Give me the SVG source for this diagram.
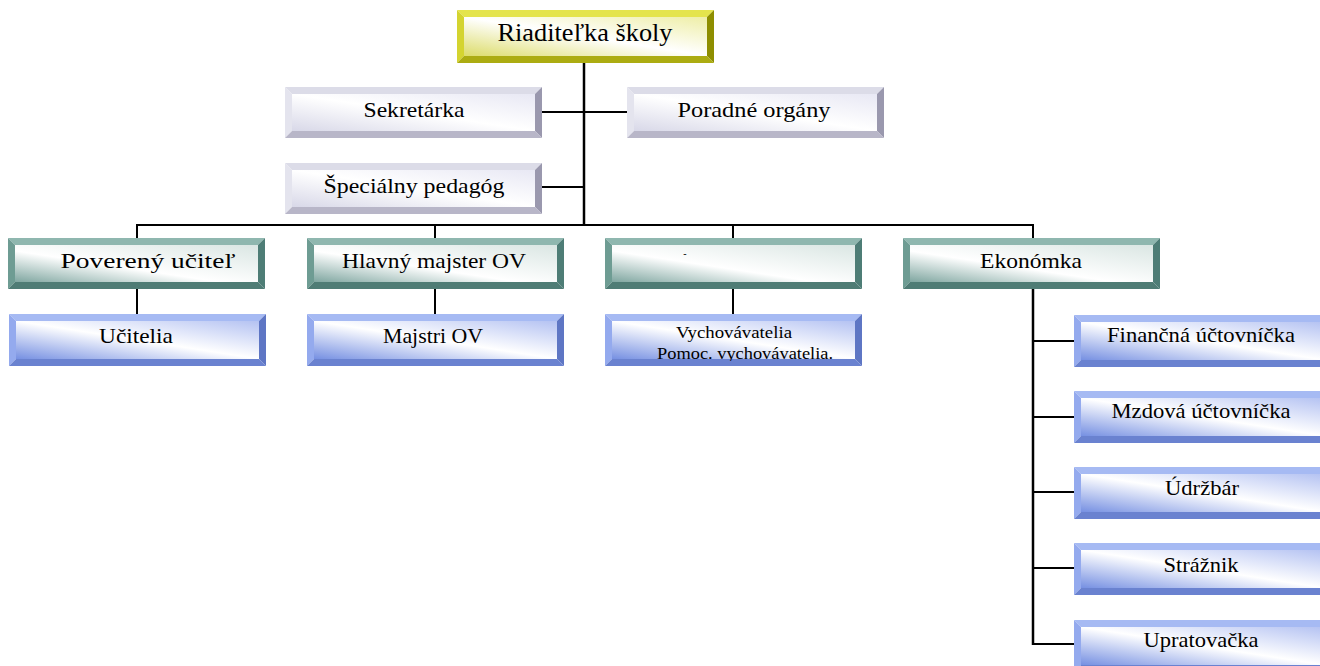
<svg xmlns="http://www.w3.org/2000/svg" width="1320" height="666" viewBox="0 0 1320 666">
<style>
.t{font-family:'Liberation Serif','DejaVu Serif',serif;font-size:22px;fill:#000;text-anchor:middle}
.big{font-size:26px}
.sm{font-size:17px}
.ln{stroke:#000;stroke-width:2;fill:none}
.tr{stroke-width:2.5}
</style>
<defs>
<linearGradient id="gY" x1="0" y1="1" x2="1" y2="0"><stop offset="0" stop-color="#dcdc6a"/><stop offset="0.5" stop-color="#ffffff"/><stop offset="1" stop-color="#eeeea6"/></linearGradient>
<linearGradient id="gG" x1="0" y1="1" x2="1" y2="0"><stop offset="0" stop-color="#d8d8e8"/><stop offset="0.5" stop-color="#ffffff"/><stop offset="1" stop-color="#e8e8f4"/></linearGradient>
<linearGradient id="gT" x1="0" y1="1" x2="1" y2="0"><stop offset="0" stop-color="#7fa6a0"/><stop offset="0.42" stop-color="#ffffff"/><stop offset="1" stop-color="#dae6e3"/></linearGradient>
<linearGradient id="gB" x1="0" y1="1" x2="1" y2="0"><stop offset="0" stop-color="#7690e2"/><stop offset="0.5" stop-color="#ffffff"/><stop offset="1" stop-color="#b4c2f2"/></linearGradient>
<g id="boxY">
<rect x="7" y="7" width="243" height="39" fill="url(#gY)"/>
<polygon points="0,0 257,0 250,7 7,7" fill="#e4e44c"/>
<polygon points="0,0 7,7 7,46 0,53" fill="#d4d430"/>
<polygon points="257,0 257,53 250,46 250,7" fill="#8e8e00"/>
<polygon points="0,53 7,46 250,46 257,53" fill="#acac12"/>
</g>
<g id="boxG">
<rect x="7" y="7" width="243" height="37" fill="url(#gG)"/>
<polygon points="0,0 257,0 250,7 7,7" fill="#dcdce8"/>
<polygon points="0,0 7,7 7,44 0,51" fill="#e4e4ee"/>
<polygon points="257,0 257,51 250,44 250,7" fill="#9a98ae"/>
<polygon points="0,51 7,44 250,44 257,51" fill="#b8b6c8"/>
</g>
<g id="boxT">
<rect x="7" y="7" width="243" height="37" fill="url(#gT)"/>
<polygon points="0,0 257,0 250,7 7,7" fill="#8fb7af"/>
<polygon points="0,0 7,7 7,44 0,51" fill="#6e9c93"/>
<polygon points="257,0 257,51 250,44 250,7" fill="#4e7d76"/>
<polygon points="0,51 7,44 250,44 257,51" fill="#4f7c75"/>
</g>
<g id="boxB">
<rect x="7" y="7" width="243" height="38" fill="url(#gB)"/>
<polygon points="0,0 257,0 250,7 7,7" fill="#a6baf3"/>
<polygon points="0,0 7,7 7,45 0,52" fill="#94aaee"/>
<polygon points="257,0 257,52 250,45 250,7" fill="#5e76c4"/>
<polygon points="0,52 7,45 250,45 257,52" fill="#6a82d0"/>
</g>
<clipPath id="cV"><rect x="605" y="314" width="257" height="47"/></clipPath>
</defs>
<rect width="1320" height="666" fill="#fff"/>
<g id="connectors">
<line class="ln tr" x1="584" y1="63" x2="584" y2="226"/>
<line class="ln" x1="542" y1="112" x2="627" y2="112"/>
<line class="ln" x1="542" y1="187" x2="584" y2="187"/>
<line class="ln" x1="136" y1="225" x2="1034" y2="225"/>
<line class="ln" x1="137" y1="225" x2="137" y2="238"/>
<line class="ln" x1="435" y1="225" x2="435" y2="238"/>
<line class="ln" x1="733" y1="225" x2="733" y2="238"/>
<line class="ln" x1="1033" y1="225" x2="1033" y2="238"/>
<line class="ln" x1="137" y1="289" x2="137" y2="314"/>
<line class="ln" x1="435" y1="289" x2="435" y2="314"/>
<line class="ln" x1="733" y1="289" x2="733" y2="314"/>
<line class="ln tr" x1="1033" y1="289" x2="1033" y2="645"/>
<line class="ln" x1="1033" y1="341" x2="1074" y2="341"/>
<line class="ln" x1="1033" y1="417" x2="1074" y2="417"/>
<line class="ln" x1="1033" y1="492" x2="1074" y2="492"/>
<line class="ln" x1="1033" y1="568" x2="1074" y2="568"/>
<line class="ln" x1="1032" y1="644" x2="1074" y2="644"/>
</g>
<g id="riaditelka"><use href="#boxY" x="457" y="10"/><text class="t big" x="585" y="41" textLength="175" lengthAdjust="spacingAndGlyphs">Riaditeľka školy</text></g>
<g id="sekretarka"><use href="#boxG" x="285" y="87"/><text class="t" x="414" y="117" textLength="101" lengthAdjust="spacingAndGlyphs">Sekretárka</text></g>
<g id="poradne"><use href="#boxG" x="627" y="87"/><text class="t" x="754" y="117" textLength="153" lengthAdjust="spacingAndGlyphs">Poradné orgány</text></g>
<g id="specialny"><use href="#boxG" x="285" y="163"/><text class="t" x="414" y="193" textLength="181" lengthAdjust="spacingAndGlyphs">Špeciálny pedagóg</text></g>
<g id="povereny"><use href="#boxT" x="8" y="238"/><text class="t" x="148" y="268" textLength="175" lengthAdjust="spacingAndGlyphs">Poverený učiteľ</text></g>
<g id="hlavny"><use href="#boxT" x="307" y="238"/><text class="t" x="434" y="268" textLength="184" lengthAdjust="spacingAndGlyphs">Hlavný majster OV</text></g>
<g id="pomlcka"><use href="#boxT" x="605" y="238"/><text class="t" x="685" y="257" style="font-size:10px">-</text></g>
<g id="ekonomka"><use href="#boxT" x="903" y="238"/><text class="t" x="1031" y="268" textLength="102" lengthAdjust="spacingAndGlyphs">Ekonómka</text></g>
<g id="ucitelia"><use href="#boxB" x="9" y="314"/><text class="t" x="136" y="343" textLength="74" lengthAdjust="spacingAndGlyphs">Učitelia</text></g>
<g id="majstri"><use href="#boxB" x="307" y="314"/><text class="t" x="433" y="343" textLength="100" lengthAdjust="spacingAndGlyphs">Majstri OV</text></g>
<g id="vychovavatelia"><use href="#boxB" x="605" y="314"/><g clip-path="url(#cV)"><text class="t sm" x="734" y="338" textLength="116" lengthAdjust="spacingAndGlyphs">Vychovávatelia</text><text class="t sm" x="745" y="359" textLength="176" lengthAdjust="spacingAndGlyphs">Pomoc. vychovávatelia.</text></g></g>
<g id="financna"><use href="#boxB" x="1074" y="315"/><text class="t" x="1201" y="342" textLength="188" lengthAdjust="spacingAndGlyphs">Finančná účtovníčka</text></g>
<g id="mzdova"><use href="#boxB" x="1074" y="391"/><text class="t" x="1201" y="418" textLength="179" lengthAdjust="spacingAndGlyphs">Mzdová účtovníčka</text></g>
<g id="udrzbar"><use href="#boxB" x="1074" y="467"/><text class="t" x="1202" y="495" textLength="74" lengthAdjust="spacingAndGlyphs">Údržbár</text></g>
<g id="straznik"><use href="#boxB" x="1074" y="543"/><text class="t" x="1201" y="572" textLength="75" lengthAdjust="spacingAndGlyphs">Strážnik</text></g>
<g id="upratovacka"><use href="#boxB" x="1074" y="620"/><text class="t" x="1201" y="647" textLength="115" lengthAdjust="spacingAndGlyphs">Upratovačka</text></g>
</svg>
